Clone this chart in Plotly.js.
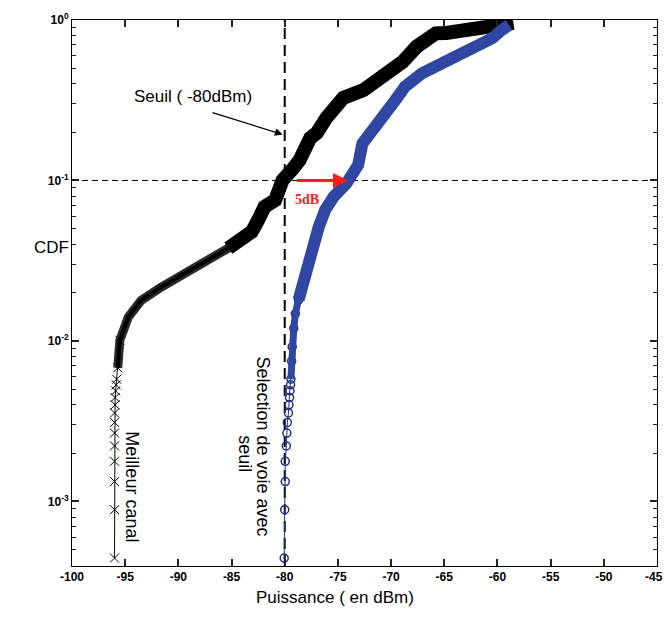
<!DOCTYPE html>
<html>
<head>
<meta charset="utf-8">
<script src="https://cdn.plot.ly/plotly-3.0.1.min.js"></script>
<style>html,body{margin:0;padding:0;background:#fff;}#chart{width:664px;height:621px;}</style>
</head>
<body>
<div id="chart"></div>
<script>
// ---- data ----
// "Meilleur canal" (black, x markers)
const blackX = [-96.0,-96.0,-96.0,-96.0,-96.0,-96.0,-96.0,-96.0,-95.95,-95.95,-95.9,-95.85,-95.8,-95.7,
  -95.5,-94.7,-93.5,-91.6,-89.7,-87.5,-85.3,-83.1,-82.5,-81.9,-80.9,-80.2,-79.2,-78.6,-77.6,-77.0,
  -76.1,-75.6,-74.5,-72.6,-71.4,-69.5,-68.9,-67.6,-66.7,-65.8,-64.8,-62.4,-59.6,-58.5];
const blackY = [0.000444,0.000889,0.00133,0.00178,0.00222,0.00267,0.00311,0.00356,0.0040,0.00444,0.00489,0.00533,0.00578,0.0068,
  0.0101,0.0141,0.0179,0.0217,0.0257,0.0311,0.0379,0.0479,0.0566,0.0685,0.0755,0.1005,0.119,0.134,0.184,0.197,
  0.245,0.263,0.327,0.366,0.412,0.524,0.550,0.682,0.769,0.826,0.830,0.887,0.944,0.96];
// "Selection de voie avec seuil" (blue, circle markers)
const blueX = [-80.05,-80.0,-79.95,-79.95,-79.85,-79.8,-79.75,-79.65,-79.6,-79.55,-79.5,-79.45,-79.42,
  -79.35,-79.3,-79.15,-79.0,-78.7,-78.4,-78.1,-77.6,-76.8,-76.2,-75.4,-74.2,-73.7,-73.1,-72.7,-71.2,
  -69.6,-68.7,-67.1,-64.9,-62.4,-60.5,-59.6,-58.9];
const blueY = [0.000444,0.000889,0.00133,0.00178,0.00222,0.00267,0.00311,0.00356,0.0040,0.00444,0.00489,0.00533,0.00578,
  0.0075,0.0092,0.012,0.0148,0.018,0.0213,0.0276,0.0368,0.0514,0.0654,0.0791,0.0959,0.1055,0.1248,0.170,0.238,
  0.317,0.384,0.465,0.550,0.650,0.769,0.867,0.931];
const xTicks = [-100,-95,-90,-85,-80,-75,-70,-65,-60,-55,-50,-45];
const xTickText = ['-100','-95','-90','-85','-80','-75','-70','-65','-60','-55','-50','-45\u00a0\u00a0'];
const yTicks = [0.001,0.01,0.1,1];
const yTickText = ['10<sup>-3</sup>','10<sup>-2</sup>','10<sup>-1</sup>','10<sup>0</sup>'];
const threshold = -80;     // seuil (dBm)
const cdfLevel = 0.1;      // horizontal reference
const gainStart = -79.0, gainEnd = -74.05; // 5 dB arrow

const yLogRange = [-3.402, 0];
const yBottom = Math.pow(10, yLogRange[0]);

const blk = '#000000', blu = '#2f46a3', bluDark = '#1f2f8a';
const traces = [
  {x:[-100,-45], y:[cdfLevel,cdfLevel], mode:'lines', line:{color:blk,width:1,dash:'6px,4px'}, hoverinfo:'skip'},
  {x:[threshold,threshold], y:[yBottom,1], mode:'lines', line:{color:blk,width:2,dash:'11px,6px'}, hoverinfo:'skip'},
  // black: sparse markers part
  {x:blackX.slice(0,15), y:blackY.slice(0,15), mode:'lines+markers', line:{color:blk,width:1},
   marker:{symbol:'x-thin-open',size:9,line:{color:blk,width:1}}},
  // black: hatched part
  {x:blackX.slice(13,23), y:blackY.slice(13,23), mode:'lines', line:{color:'#2a2a2a',width:9}},
  {x:blackX.slice(13,23), y:blackY.slice(13,23), mode:'lines', line:{color:blk,width:4}},
  // black: dense solid part
  {x:blackX.slice(20), y:blackY.slice(20), mode:'lines', line:{color:blk,width:14}},
  // blue: sparse markers
  {x:blueX.slice(0,19), y:blueY.slice(0,19), mode:'lines+markers', line:{color:bluDark,width:1},
   marker:{symbol:'circle-open',size:8,line:{color:bluDark,width:1.5}}},
  {x:blueX.slice(12,20), y:blueY.slice(12,20), mode:'lines', line:{color:blu,width:7}},
  // blue: dense solid part
  {x:blueX.slice(17), y:blueY.slice(17), mode:'lines', line:{color:blu,width:12}}
];

const tickFont = {family:'Liberation Sans, Arial, sans-serif', size:12, color:'#000', weight:'bold'};
const txtFont = {family:'Liberation Sans, Arial, sans-serif', size:17, color:'#000'};
const log = Math.log10;

const layout = {
  width:664, height:621,
  margin:{l:72, r:7, t:20, b:55},
  paper_bgcolor:'#fff', plot_bgcolor:'#fff',
  showlegend:false,
  xaxis:{range:[-100,-45], tickmode:'array', tickvals:xTicks, ticktext:xTickText, ticks:'inside', ticklen:7,
    tickwidth:1.5, tickcolor:'#222',
    showline:true, linecolor:'#000', linewidth:1, mirror:'ticks', showgrid:false, zeroline:false,
    tickfont:tickFont, ticklabeloverflow:'allow'},
  yaxis:{type:'log', range:yLogRange, tickmode:'array', tickvals:yTicks, ticktext:yTickText, ticks:'inside', ticklen:7,
    tickwidth:1.5, tickcolor:'#222', showline:true, linecolor:'#000', linewidth:1, mirror:'ticks', showgrid:false,
    zeroline:false, tickfont:tickFont,
    minor:{ticks:'inside', ticklen:4, tickwidth:1, tickcolor:'#222', showgrid:false, dtick:'D1'}},
  annotations:[
    {xref:'paper', yref:'paper', x:-0.069, y:0.584, text:'CDF', showarrow:false, font:txtFont},
    {xref:'paper', yref:'paper', x:0.449, y:-0.079, text:'Puissance ( en dBm)', showarrow:false, font:txtFont},
    {xref:'x', yref:'y', x:-88.6, y:-0.478, text:'Seuil ( -80dBm)', showarrow:false, font:txtFont},
    {xref:'x', yref:'y', axref:'x', ayref:'y', x:-80.19, y:-0.713, ax:-86.93, ay:-0.575, text:'',
     showarrow:true, arrowhead:2, arrowsize:1.2, arrowwidth:1.3, arrowcolor:'#000', standoff:0},
    {xref:'x', yref:'y', axref:'x', ayref:'y', x:gainEnd, y:log(cdfLevel), ax:gainStart, ay:log(cdfLevel), text:'',
     showarrow:true, arrowhead:2, arrowsize:1, arrowwidth:3, arrowcolor:'#ff1a1a', standoff:0},
    {xref:'x', yref:'y', x:-77.9, y:-1.118, text:'<b>5dB</b>', showarrow:false,
     font:{family:'Liberation Serif, Times New Roman, serif', size:14, color:'#ff1a1a'}},
    {xref:'x', yref:'y', x:-94.39, y:-2.910, text:'Meilleur canal', textangle:90, showarrow:false,
     font:{family:'Liberation Sans, Arial, sans-serif', size:18, color:'#000'}},
    {xref:'x', yref:'y', x:-82.0, y:-2.660, text:'Selection de voie avec', textangle:90, showarrow:false,
     font:{family:'Liberation Sans, Arial, sans-serif', size:18, color:'#000'}},
    {xref:'x', yref:'y', x:-83.73, y:-2.700, text:'seuil', textangle:90, showarrow:false,
     font:{family:'Liberation Sans, Arial, sans-serif', size:18, color:'#000'}}
  ]
};

Plotly.newPlot('chart', traces, layout, {displayModeBar:false});
</script>
</body>
</html>
